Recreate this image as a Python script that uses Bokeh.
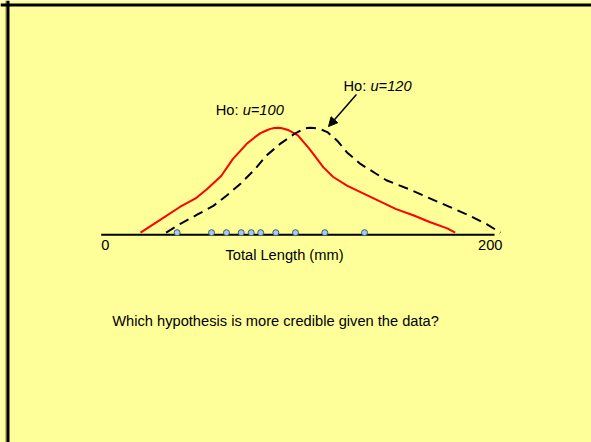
from bokeh.plotting import figure
from bokeh.models import Range1d, Arrow, NormalHead, Span
from bokeh.core.properties import value
from bokeh.embed import file_html
from bokeh.resources import INLINE

# ---- data ----
red_x = [20, 30, 40, 48, 54, 61, 67, 74, 78, 81, 84, 86, 88, 90, 92, 95, 100, 106, 113, 118, 125, 134, 142, 150, 159, 167, 176, 180]
red_y = [0.02, 0.14, 0.26, 0.34, 0.43, 0.55, 0.71, 0.85, 0.91, 0.95, 0.975, 0.99, 0.998, 1.00, 0.995, 0.98, 0.93, 0.80, 0.63, 0.54, 0.46, 0.38, 0.31, 0.24, 0.18, 0.12, 0.06, 0.02]

dash_x = [33, 40, 49, 57, 64, 71, 78, 84, 91, 98, 102, 104, 106, 108, 111, 115, 120, 125, 132, 139, 145, 156, 166, 176, 186, 196, 203]
dash_y = [0.02, 0.10, 0.19, 0.27, 0.37, 0.48, 0.61, 0.74, 0.85, 0.94, 0.98, 0.995, 1.00, 0.998, 0.99, 0.96, 0.88, 0.77, 0.66, 0.58, 0.51, 0.43, 0.35, 0.27, 0.19, 0.10, 0.02]

obs_x = [38.6, 56.1, 63.7, 71.2, 76.3, 81.1, 88.8, 98.8, 113.7, 133.9]
obs_y = [0.02] * len(obs_x)

axis_x = [0, 200]
axis_y = [0, 0]
tick_values = [0, 200]
tick_labels = ["0", "200"]
x_label = "Total Length (mm)"
question = "Which hypothesis is more credible given the data?"

BG = "#FFFF99"
FONT = "Liberation Sans"
FS = "11pt"

W, H = 591, 442
PX_PER_X = 393.3 / 200.0   # pixels per data unit along x
PX_PER_Y = 107.0           # pixels per data unit along y
AX_LEFT, AX_Y = 100.7, 234.3   # where the data origin sits on the page
X0 = -AX_LEFT / PX_PER_X
X1 = X0 + W / PX_PER_X
Y1 = AX_Y / PX_PER_Y
Y0 = Y1 - H / PX_PER_Y

p = figure(width=W, height=H, output_backend="svg", toolbar_location=None,
           x_range=Range1d(X0, X1), y_range=Range1d(Y0, Y1),
           x_axis_location=None, y_axis_location=None,
           min_border=0)
p.grid.visible = False
p.outline_line_color = None
p.background_fill_color = BG
p.border_fill_color = BG

txt = dict(text_font=value(FONT), text_font_size=value(FS), text_baseline="middle", text_color="black")

# horizontal axis
p.line(axis_x, axis_y, line_color="black", line_width=2)
p.text(x=[tick_values[0]], y=[-0.098], text=[tick_labels[0]], text_align="left", **txt)
p.text(x=[tick_values[1]], y=[-0.098], text=[tick_labels[1]], text_align="right", x_offset=8, **txt)
p.text(x=[93.2], y=[-0.193], text=[x_label], text_align="center", **txt)

# curves and observations
p.line(red_x, red_y, line_color="#FF0000", line_width=2)
p.line(dash_x, dash_y, line_color="black", line_width=2, line_dash="10 6")
p.scatter(obs_x, obs_y, size=6, fill_color="#A6CAF0", line_color="#3C5A6E", line_width=1)

# hypothesis labels
p.text(x=[58.2], y=[1.168], text=["Ho: "], text_align="left", **txt)
p.text(x=[58.2], y=[1.168], text=["u=100"], text_align="left", text_font_style="italic", x_offset=27, **txt)
p.text(x=[123.2], y=[1.395], text=["Ho: "], text_align="left", **txt)
p.text(x=[123.2], y=[1.395], text=["u=120"], text_align="left", text_font_style="italic", x_offset=27, **txt)

p.add_layout(Arrow(end=NormalHead(size=9, fill_color="black", line_color="black"),
                   x_start=129.8, y_start=1.311, x_end=115.6, y_end=1.012,
                   line_width=1.5, line_color="black"))

# question
p.text(x=[5.6], y=[-0.807], text=[question], text_align="left", **txt)

# slide frame (left and top edges)
p.add_layout(Span(location=X0 + 5.5 / PX_PER_X, dimension="height", line_color="#808040", line_width=1))
p.add_layout(Span(location=X0 + 7.5 / PX_PER_X, dimension="height", line_color="black", line_width=3))
p.add_layout(Span(location=Y1 - 4.5 / PX_PER_Y, dimension="width", line_color="black", line_width=3))

open("out.html", "w").write(file_html(p, INLINE))
